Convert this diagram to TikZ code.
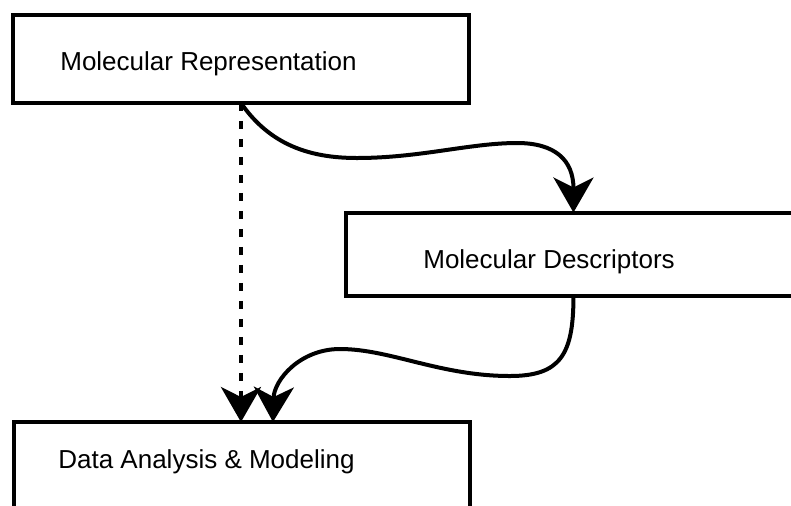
\documentclass[tikz,border=0pt]{standalone}
\usepackage{fontspec}
\setmainfont{Liberation Sans}
\usetikzlibrary{arrows.meta}

\begin{document}
\begin{tikzpicture}[x=0.02cm,y=-0.02cm,
blocco/.style={draw,line width=0.08cm,minimum width=9.12cm,minimum height=1.76cm,outer sep=0pt,inner sep=0pt,anchor=north west},
testoB/.style={anchor=base west,inner sep=0pt,font=\fontsize{14.8pt}{17.5pt}\selectfont},
freccia/.style={line width=0.08cm,-{Stealth[length=0.7cm,width=0.8cm,inset=0.2cm]}}
]
\useasboundingbox (0,0) rectangle (791,505);
\clip (0,0) rectangle (791,505);
%--
\node[blocco](rappr) at (13,15){};
\node[testoB](rapprT) at (60,70){Molecular Representation};
%--
\node[blocco,minimum height=1.68cm](descr) at (345.5,212.5){};
\node[testoB](descrT) at (423,268){Molecular Descriptors};
%--
\node[blocco](analisi) at (14,422){};
\node[testoB](analisiT) at (58,468){Data Analysis \& Modeling};
%--
\draw [freccia,dash pattern=on 0.16cm off 0.2cm] (rappr.south) -- (rappr.south |- analisi.north);
\draw [freccia] (rappr.south) .. controls (270,145) and (310,158) .. (357,158)
  .. controls (420,158) and (470,143) .. (517,143)
  .. controls (555,143) and (573.5,160) .. (descr.north);
\draw [freccia] (descr.south) .. controls (573.5,355) and (560,376) .. (510,376)
  .. controls (440,376) and (390,349) .. (340,349)
  .. controls (300,349) and (274,380) .. ([xshift=0.62cm]analisi.north);
\end{tikzpicture}
\end{document}
